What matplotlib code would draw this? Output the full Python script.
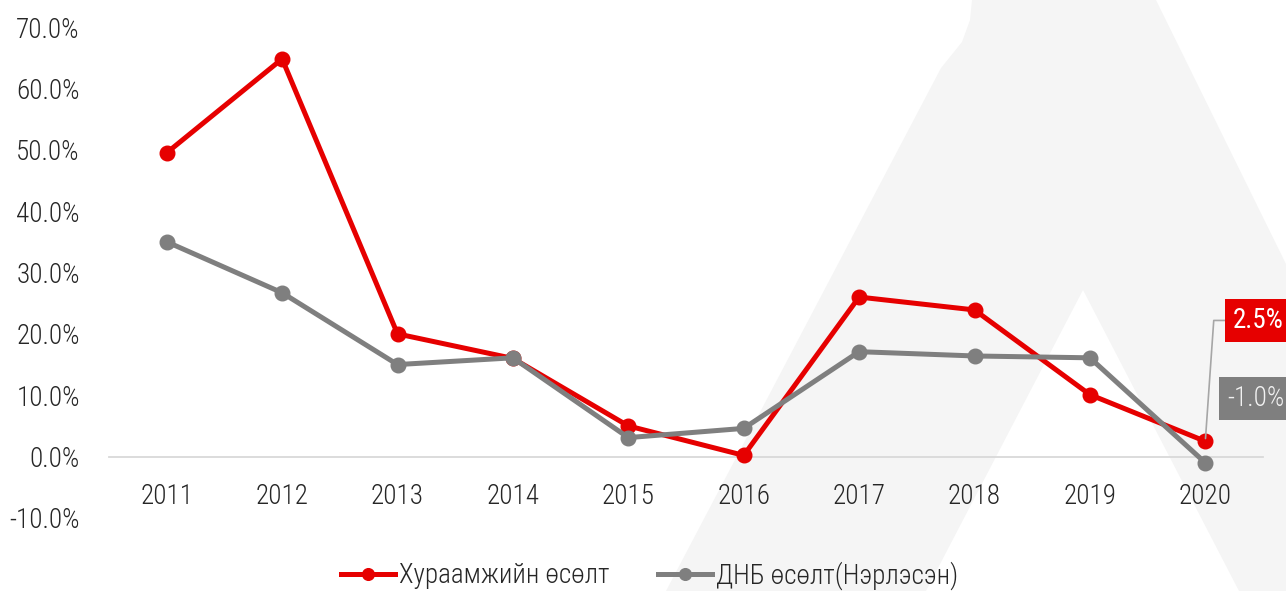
import matplotlib
matplotlib.use("Agg")
import matplotlib.pyplot as plt
from matplotlib import font_manager
from matplotlib.patches import Polygon
from matplotlib.ticker import FuncFormatter

# the original uses a condensed face; take the first one that exists here
have = {f.name for f in font_manager.fontManager.ttflist}
face = next((n for n in ['Roboto Condensed', 'Liberation Sans Narrow', 'Roboto']
             if n in have), 'DejaVu Sans')
plt.rcParams['font.family'] = [face, 'DejaVu Sans']
plt.rcParams['font.weight'] = 'light'

# data
years = ['2011', '2012', '2013', '2014', '2015', '2016', '2017', '2018', '2019', '2020']
premium_growth = [49.5, 64.8, 20.0, 16.0, 5.0, 0.2, 26.0, 23.9, 10.1, 2.5]
gdp_growth = [35.0, 26.7, 15.0, 16.1, 3.1, 4.6, 17.1, 16.4, 16.1, -1.0]
series_names = ['Хураамжийн өсөлт', 'ДНБ өсөлт(Нэрлэсэн)']

red = '#e60000'
grey = '#7f7f7f'
text_col = '#262626'
W, H = 1286, 591

fig = plt.figure(figsize=(12.86, 5.91), dpi=100)

# faint "A" watermark in the background (figure pixel coords, y from top)
def px(points):
    return [(x / W, 1 - y / H) for x, y in points]

outer = [(666, 591), (941, 68), (962, 42), (970, 20), (972, 0), (1156, 0),
         (1286, 264), (1286, 591)]
inner = [(926, 591), (1083, 290), (1239, 591)]
fig.patches.append(Polygon(px(outer), closed=True, transform=fig.transFigure,
                           facecolor='#f5f5f5', edgecolor='none', zorder=-2))
fig.patches.append(Polygon(px(inner), closed=True, transform=fig.transFigure,
                           facecolor='white', edgecolor='none', zorder=-1))

ax = fig.add_axes([109 / W, 1 - 518 / H, (1263 - 109) / W, (518 - 27) / H])
ax.set_zorder(1)
ax.set_facecolor('none')

x = list(range(len(years)))
ax.plot(x, premium_growth, color=red, lw=3.6, marker='o', ms=10.5,
        label=series_names[0], zorder=3)
ax.plot(x, gdp_growth, color=grey, lw=3.6, marker='o', ms=10.5,
        label=series_names[1], zorder=4)

ax.set_xlim(-0.5, len(years) - 0.5)
ax.set_ylim(-10, 70)
ax.set_yticks(range(-10, 71, 10))
ax.yaxis.set_major_formatter(FuncFormatter(lambda v, p: '%.1f%%' % v))
ax.set_xticks(x)
ax.set_xticklabels(years)

for s in ['top', 'right', 'left']:
    ax.spines[s].set_visible(False)
ax.spines['bottom'].set_position(('data', 0))
ax.spines['bottom'].set_color('#d9d9d9')
ax.spines['bottom'].set_linewidth(1.3)
ax.spines['bottom'].set_zorder(1)

ax.tick_params(axis='x', length=0, pad=19, labelsize=19.5, labelcolor=text_col)
ax.tick_params(axis='y', length=0, pad=21, labelsize=19.5, labelcolor=text_col)

# end-point labels for 2020
ax.annotate('%.1f%%' % premium_growth[-1], xy=(x[-1], premium_growth[-1]),
            xytext=(20, 87), textcoords='offset points', ha='left', va='center',
            fontsize=19.5, fontweight='normal', color='white', annotation_clip=False,
            bbox=dict(boxstyle='square,pad=0.3', fc=red, ec='none'),
            arrowprops=dict(arrowstyle='-', color='#a6a6a6', lw=1.2,
                            connectionstyle='angle,angleA=0,angleB=86,rad=0',
                            shrinkA=0, shrinkB=2))
ax.annotate('%.1f%%' % gdp_growth[-1], xy=(x[-1], gdp_growth[-1]),
            xytext=(16, 46), textcoords='offset points', ha='left', va='center',
            fontsize=19.5, color='#f2f2f2', annotation_clip=False,
            bbox=dict(boxstyle='square,pad=0.3', fc=grey, ec='none'))

fig.legend(loc='lower center', bbox_to_anchor=(0.505, -0.025), ncol=2, frameon=False,
           fontsize=19.5, labelcolor=text_col, handlelength=2.0,
           handletextpad=0.15, columnspacing=1.8, markerscale=0.8, borderpad=0.1)

fig.savefig('out.png', dpi=100)
